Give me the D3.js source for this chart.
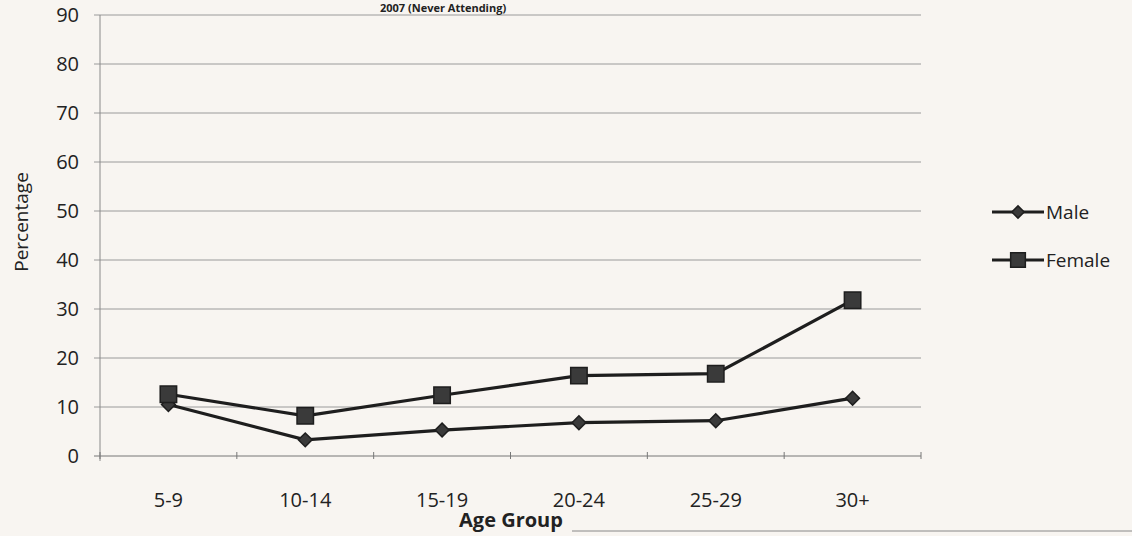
<!DOCTYPE html>
<html>
<head>
<meta charset="utf-8">
<script src="https://cdn.jsdelivr.net/npm/d3@7"></script>
<style>
  body { margin: 0; background: #f8f5f1; }
  svg text { font-family: "Open Sans", "Noto Sans", sans-serif; fill: #222; }
</style>
</head>
<body>
<div id="chart-area"></div>
<script>
// data
var ageGroups = ["5-9", "10-14", "15-19", "20-24", "25-29", "30+"];
var maleValues = [10.5, 3.3, 5.3, 6.8, 7.2, 11.8];
var femaleValues = [12.6, 8.2, 12.4, 16.4, 16.8, 31.8];
var yTicks = [0, 10, 20, 30, 40, 50, 60, 70, 80, 90];

var W = 1132, H = 536;

var svg = d3.select("#chart-area").append("svg")
    .attr("width", W)
    .attr("height", H);

svg.append("rect").attr("width", W).attr("height", H).attr("fill", "#f8f5f1");

var x = d3.scaleBand()
    .domain(ageGroups)
    .range([100, 921]);

var y = d3.scaleLinear()
    .domain([0, 90])
    .range([456, 15]);

// gridlines
svg.append("g")
    .selectAll("line")
    .data(yTicks)
    .enter()
    .append("line")
        .attr("x1", 94)
        .attr("x2", 921)
        .attr("y1", (d) => y(d))
        .attr("y2", (d) => y(d))
        .attr("stroke", (d) => d == 0 ? "#777" : "#9a9a9a")
        .attr("stroke-width", 1);

// y axis line
svg.append("line")
    .attr("x1", 100).attr("x2", 100)
    .attr("y1", y(90)).attr("y2", y(0) + 5)
    .attr("stroke", "#8a8a8a");

// y tick labels
svg.append("g")
    .selectAll("text")
    .data(yTicks)
    .enter()
    .append("text")
        .attr("x", 79)
        .attr("y", (d) => y(d))
        .attr("dy", "0.35em")
        .attr("text-anchor", "end")
        .attr("font-size", 20)
        .text((d) => d);

// x axis ticks between categories
var bounds = ageGroups.map((d) => x(d)).concat([x.range()[1]]);
svg.append("g")
    .selectAll("line")
    .data(bounds)
    .enter()
    .append("line")
        .attr("x1", (d) => d)
        .attr("x2", (d) => d)
        .attr("y1", y(0) - 4)
        .attr("y2", y(0) + 3)
        .attr("stroke", "#777");

svg.append("g")
    .selectAll("text")
    .data(ageGroups)
    .enter()
    .append("text")
        .attr("x", (d) => x(d) + x.bandwidth() / 2)
        .attr("y", 507)
        .attr("text-anchor", "middle")
        .attr("font-size", 20)
        .text((d) => d);

// axis titles
svg.append("text")
    .attr("x", 511)
    .attr("y", 527)
    .attr("text-anchor", "middle")
    .attr("font-size", 20)
    .attr("font-weight", "bold")
    .text("Age Group");

svg.append("text")
    .attr("transform", "translate(28,222) rotate(-90)")
    .attr("text-anchor", "middle")
    .attr("font-size", 19)
    .text("Percentage");

// title (cut by the top of the scan in the original)
svg.append("text")
    .attr("x", 380)
    .attr("y", 12)
    .attr("font-size", 11)
    .attr("font-weight", "bold")
    .text("2007 (Never Attending)");

// bottom rule of the page
svg.append("line")
    .attr("x1", 572).attr("x2", W)
    .attr("y1", 531).attr("y2", 531)
    .attr("stroke", "#888");

var cx = (i) => x(ageGroups[i]) + x.bandwidth() / 2;

var line = d3.line()
    .x((d, i) => cx(i))
    .y((d) => y(d));

var series = [
    { name: "Male", values: maleValues, size: 95, rot: 45 },
    { name: "Female", values: femaleValues, size: 270, rot: 0 }
];

series.forEach((s) => {
    svg.append("path")
        .datum(s.values)
        .attr("d", line)
        .attr("fill", "none")
        .attr("stroke", "#1e1e1e")
        .attr("stroke-width", 3.2);

    svg.append("g")
        .selectAll("path")
        .data(s.values)
        .enter()
        .append("path")
            .attr("transform", (d, i) => "translate(" + cx(i) + "," + y(d) + ") rotate(" + s.rot + ")")
            .attr("d", d3.symbol().type(d3.symbolSquare).size(s.size))
            .attr("fill", "#3a3a3a")
            .attr("stroke", "#1e1e1e")
            .attr("stroke-width", 1.5);
});

// legend
var legend = svg.append("g");
series.forEach((s, i) => {
    var ly = 212 + i * 48;
    legend.append("line")
        .attr("x1", 992).attr("x2", 1044)
        .attr("y1", ly).attr("y2", ly)
        .attr("stroke", "#1e1e1e")
        .attr("stroke-width", 3);
    legend.append("path")
        .attr("transform", "translate(1018," + ly + ") rotate(" + s.rot + ")")
        .attr("d", d3.symbol().type(d3.symbolSquare).size(s.size * 0.8))
        .attr("fill", "#3a3a3a")
        .attr("stroke", "#1e1e1e")
        .attr("stroke-width", 1.5);
    legend.append("text")
        .attr("x", 1046)
        .attr("y", ly)
        .attr("dy", "0.35em")
        .attr("font-size", 19)
        .text(s.name);
});
</script>
</body>
</html>
